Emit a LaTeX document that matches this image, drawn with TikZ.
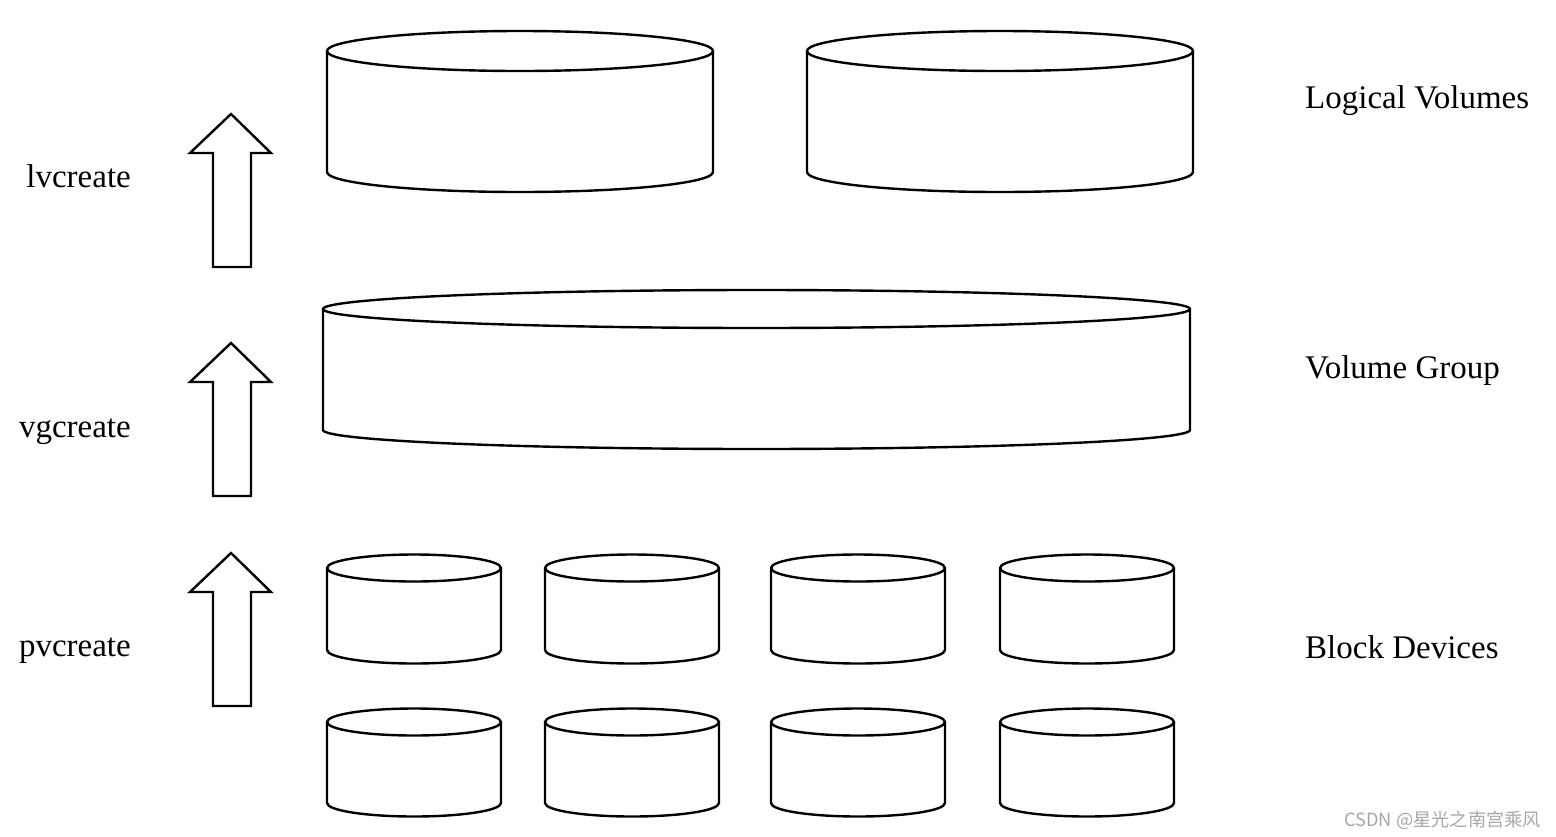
\documentclass[tikz,border=0pt]{standalone}
\usepackage{fontspec}
\setmainfont{Liberation Serif}
\newfontfamily\cjkwm{Noto Sans CJK SC}
\tikzset{
  cylline/.style={line width=2.4pt, line join=round},
  uparrow/.style={line width=2.4pt, line join=miter},
  labelL/.style={anchor=base east, inner sep=0pt, font=\fontsize{33}{38}\selectfont},
  labelR/.style={anchor=base west, inner sep=0pt, font=\fontsize{33}{38}\selectfont},
  wm/.style={anchor=base east, inner sep=0pt, text=gray!70, font=\cjkwm\fontsize{18.2}{21}\selectfont}
}
% #1 left, #2 right, #3 top-centre y, #4 bottom-centre y, #5 y radius
\newcommand\mycyl[5]{%
  \draw[cylline] (#1,-#3) -- (#1,-#4) arc[start angle=180,end angle=360,x radius={(#2-#1)/2},y radius=#5] -- (#2,-#3);
  \draw[cylline] ({(#1+#2)/2},-#3) ellipse[x radius={(#2-#1)/2},y radius=#5];
}
% #1 tip y, #2 bottom y
\newcommand\myarrow[2]{%
  \draw[uparrow] (213,-#2) -- (213,{-(#1+39)}) -- (190,{-(#1+39)}) -- (231,-#1) -- (271,{-(#1+39)}) -- (251,{-(#1+39)}) -- (251,-#2) -- cycle;
}
\begin{document}
\begin{tikzpicture}[x=1pt,y=1pt]
\useasboundingbox (0,0) rectangle (1556,-836);
% logical volumes
\mycyl{327}{713}{51}{172}{20}
\mycyl{807}{1193}{51}{172}{20}
% volume group
\mycyl{323}{1190}{309}{430}{19}
% block devices
\foreach \l in {327,545,771,1000}{
  \mycyl{\l}{\l+174}{568}{650}{13.5}
  \mycyl{\l}{\l+174}{722}{803}{13.5}
}
% arrows
\myarrow{114}{267}
\myarrow{343}{496}
\myarrow{553}{706}
% labels
\node[labelL] (lv) at (131,-187) {lvcreate};
\node[labelL] (vg) at (131,-437) {vgcreate};
\node[labelL] (pv) at (131,-656) {pvcreate};
\node[labelR] (LV) at (1305,-108) {Logical Volumes};
\node[labelR] (VG) at (1305,-378) {Volume Group};
\node[labelR] (BD) at (1305,-658) {Block Devices};
\node[wm] (wmk) at (1541,-826) {CSDN @星光之南宫乘风};
\end{tikzpicture}
\end{document}
